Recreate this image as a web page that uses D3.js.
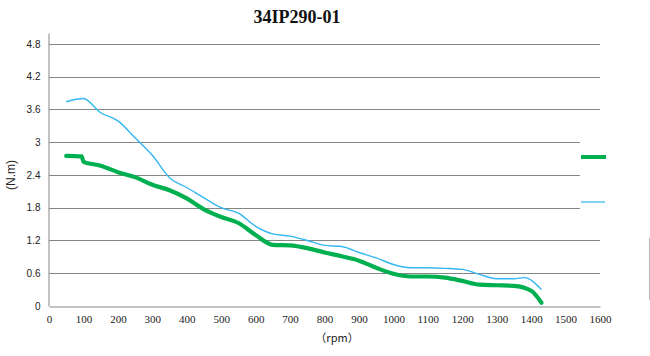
<!DOCTYPE html>
<html><head><meta charset="utf-8">
<script src="https://cdn.jsdelivr.net/npm/d3@7"></script>
<style>body{margin:0;background:#fff}svg{display:block}</style>
</head><body><svg id="c" width="650" height="356"></svg>
<script>
const title = "34IP290-01";
const xTicks = [0,100,200,300,400,500,600,700,800,900,1000,1100,1200,1300,1400,1500,1600];
const yTicks = [0,0.6,1.2,1.8,2.4,3,3.6,4.2,4.8];
const greenRpm = [50,95,100,150,200,250,300,350,400,450,500,550,600,650,700,750,800,850,900,950,1000,1050,1100,1150,1200,1250,1300,1350,1400,1430];
const greenVal = [2.75,2.74,2.64,2.57,2.45,2.36,2.22,2.12,1.97,1.77,1.63,1.52,1.30,1.12,1.11,1.06,0.98,0.91,0.83,0.70,0.59,0.54,0.54,0.52,0.46,0.39,0.38,0.37,0.28,0.06];
const blueRpm = [50,100,150,200,250,300,350,400,450,500,550,600,650,700,750,800,850,900,950,1000,1050,1100,1150,1200,1250,1300,1350,1380,1430];
const blueVal = [3.74,3.80,3.54,3.39,3.08,2.76,2.35,2.17,1.98,1.80,1.70,1.46,1.32,1.28,1.20,1.11,1.09,0.98,0.88,0.76,0.70,0.70,0.69,0.67,0.58,0.50,0.50,0.52,0.30];

const svg = d3.select("#c");
const x = d3.scaleLinear().domain([0,1600]).range([49,600]);
const y = d3.scaleLinear().domain([0,5]).range([306,33]);
const grid = "#868686";

// gridlines
svg.append("g").selectAll("line").data(yTicks.filter(d=>d>0)).join("line")
  .attr("x1", x(0)).attr("x2", d => (d>=1.8 && d<=3) ? 580 : x(1600))
  .attr("y1", d=>Math.round(y(d))+0.5).attr("y2", d=>Math.round(y(d))+0.5)
  .attr("stroke", grid).attr("stroke-width",1);

// axes
const yAxis = d3.axisLeft(y).tickValues(yTicks).tickSize(0).tickPadding(8).tickFormat(d=>String(d));
const gy = svg.append("g").attr("transform",`translate(${x(0)-0.5},0)`).call(yAxis);
gy.select(".domain").attr("stroke",grid);
gy.selectAll("text").attr("font-family","Liberation Sans, Arial, sans-serif").attr("font-size",10).attr("fill","#222");

const xAxis = d3.axisBottom(x).tickValues(xTicks).tickSize(0).tickPadding(9).tickFormat(d=>String(d));
const gx = svg.append("g").attr("transform",`translate(0,${Math.round(y(0))+0.5})`).call(xAxis);
gx.select(".domain").attr("stroke",grid);
gx.selectAll("text").attr("font-family","Liberation Serif, serif").attr("font-size",11).attr("fill","#222");

// series
const line = d3.line().x(d=>x(d[0])).y(d=>y(d[1])).curve(d3.curveMonotoneX);
svg.append("path").datum(blueRpm.map((r,i)=>[r,blueVal[i]]))
  .attr("d",line).attr("fill","none").attr("stroke","#33B6F2").attr("stroke-width",1.4);
svg.append("path").datum(greenRpm.map((r,i)=>[r,greenVal[i]]))
  .attr("d",line).attr("fill","none").attr("stroke","#00B050").attr("stroke-width",4.2)
  .attr("stroke-linejoin","round").attr("stroke-linecap","round");

// legend (no text)
svg.append("line").attr("x1",581).attr("x2",606).attr("y1",157).attr("y2",157)
  .attr("stroke","#00B050").attr("stroke-width",4);
svg.append("line").attr("x1",581).attr("x2",605).attr("y1",202).attr("y2",202)
  .attr("stroke","#5BC4F3").attr("stroke-width",1.5);

// right frame fragment
svg.append("line").attr("x1",649.5).attr("x2",649.5).attr("y1",238).attr("y2",300)
  .attr("stroke","#bbb").attr("stroke-width",1);

// title & labels
svg.append("text").attr("x",297).attr("y",23).attr("text-anchor","middle")
  .attr("font-family","Liberation Serif, serif").attr("font-weight","bold").attr("font-size",18).attr("fill","#111").text(title);
svg.append("text").attr("transform","translate(15,175) rotate(-90)").attr("text-anchor","middle")
  .attr("font-family","Liberation Sans, Arial, sans-serif").attr("font-size",12).attr("fill","#222").text("(N.m)");
svg.append("text").attr("x",337).attr("y",342).attr("text-anchor","middle")
  .attr("font-family","Noto Sans CJK SC, sans-serif").attr("font-size",11).attr("fill","#222").text("（rpm）");
</script></body></html>
